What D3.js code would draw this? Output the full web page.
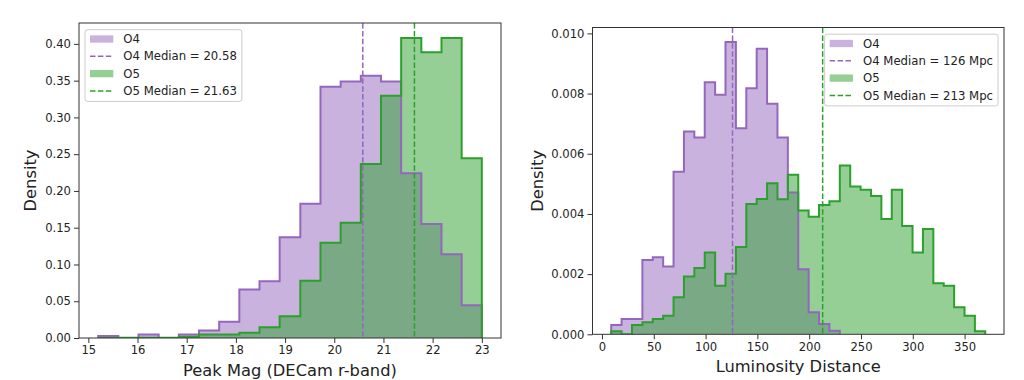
<!DOCTYPE html>
<html><head><meta charset="utf-8">
<script src="https://cdn.jsdelivr.net/npm/d3@7"></script>
<style>
body{margin:0;background:#fff}
svg{display:block}
text{font-family:"DejaVu Sans",sans-serif}
</style>
</head><body>
<svg id="c" width="1024" height="380"></svg>
<script>
// ---------- DATA ----------
const seriesNames = ["O4", "O5"];

// Left panel: peak magnitude (shared bin edges)
const magEdges = [15.2, 15.61, 16.02, 16.43, 16.84, 17.25, 17.66, 18.07, 18.48, 18.89,
                  19.31, 19.72, 20.13, 20.54, 20.95, 21.36, 21.77, 22.18, 22.59, 23.0];
const magO4 = [0.0028, 0, 0.0048, 0, 0.0048, 0.0102, 0.0222, 0.066, 0.0773, 0.137,
               0.1827, 0.3418, 0.349, 0.3568, 0.349, 0.2241, 0.155, 0.114, 0.0446];
const magO5 = [0, 0.0005, 0.0005, 0.0005, 0.0018, 0.0046, 0.0046, 0.007, 0.0147, 0.0296,
               0.0777, 0.1295, 0.1568, 0.2368, 0.3295, 0.408, 0.3886, 0.408, 0.2446];
const magMedians = [20.58, 21.63];
const magTicksX = [15, 16, 17, 18, 19, 20, 21, 22, 23];
const magTicksY = [0, 0.05, 0.10, 0.15, 0.20, 0.25, 0.30, 0.35, 0.40];
const magLegend = ["O4", "O4 Median = 20.58", "O5", "O5 Median = 21.63"];

// Right panel: luminosity distance (shared bin edges)
const distEdges = [8.9, 18.93, 28.96, 38.99, 49.02, 59.05, 69.08, 79.11, 89.14, 99.17,
                   109.2, 119.23, 129.26, 139.29, 149.32, 159.35, 169.38, 179.41, 189.44, 199.47,
                   209.5, 219.53, 229.56, 239.59, 249.62, 259.65, 269.68, 279.71, 289.74, 299.77,
                   309.8, 319.83, 329.86, 339.89, 349.92, 359.95, 369.98];
const distO4 = [0.00031, 0.00051, 0.00051, 0.00247, 0.00256, 0.00225, 0.0054, 0.00674, 0.00654, 0.00838,
                0.00796, 0.00971, 0.00685, 0.00818, 0.00949, 0.00766, 0.00654, 0.00471, 0.00216, 0.00073,
                0.00034, 0.00012];
const distO5 = [0.0001, 0, 0.00031, 0.0004, 0.00051, 0.00062, 0.00123, 0.00192, 0.0022, 0.00272,
                0.00161, 0.00201, 0.0029, 0.00433, 0.0045, 0.00502, 0.00449, 0.0053, 0.00411, 0.00391,
                0.0043, 0.00442, 0.00561, 0.00491, 0.0048, 0.0046, 0.00383, 0.0048, 0.0036, 0.00272,
                0.0035, 0.0017, 0.00161, 0.0009, 0.00062, 0.0001];
const distMedians = [126, 213];
const distTicksX = [0, 50, 100, 150, 200, 250, 300, 350];
const distTicksY = [0, 0.002, 0.004, 0.006, 0.008, 0.010];
const distLegend = ["O4", "O4 Median = 126 Mpc", "O5", "O5 Median = 213 Mpc"];

// ---------- STYLE ----------
const colors = {O4: "#9467bd", O5: "#2ca02c"};
const tickFont = 11.6, labelFont = 16.3, legendFont = 11.7;
const spineColor = "#333";

const svg = d3.select("#c");

function stepPoints(edges, vals) {
  const p = [[edges[0], 0]];
  vals.forEach((v, i) => { p.push([edges[i], v]); p.push([edges[i + 1], v]); });
  p.push([edges[vals.length], 0]);
  return p;
}

function panel(cfg) {
  const b = cfg.box;
  const lo = cfg.edges[0];
  const hi = cfg.edges[Math.max(...cfg.series.map(s => s.length))];
  const span = hi - lo;
  const x = d3.scaleLinear().domain([lo - 0.05 * span, hi + 0.05 * span]).range([b.x0, b.x1]);
  const yMax = d3.max(cfg.series.flat()) * 1.05;
  const y = d3.scaleLinear().domain([0, yMax]).range([b.y1, b.y0]);

  const g = svg.append("g");
  const clipId = "clip" + cfg.id;
  g.append("clipPath").attr("id", clipId).append("rect")
    .attr("x", b.x0).attr("y", b.y0).attr("width", b.x1 - b.x0).attr("height", b.y1 - b.y0);
  const plot = g.append("g").attr("clip-path", `url(#${clipId})`);

  const area = d3.area().x(d => x(d[0])).y0(y(0)).y1(d => y(d[1]));
  const line = d3.line().x(d => x(d[0])).y(d => y(d[1]));

  cfg.series.forEach((vals, i) => {
    plot.append("path").attr("d", area(stepPoints(cfg.edges, vals)))
      .attr("fill", colors[seriesNames[i]]).attr("fill-opacity", 0.5);
  });
  cfg.series.forEach((vals, i) => {
    plot.append("path").attr("d", line(stepPoints(cfg.edges, vals)))
      .attr("fill", "none").attr("stroke", colors[seriesNames[i]])
      .attr("stroke-width", 2).attr("stroke-linejoin", "miter");
  });
  cfg.medians.forEach((m, i) => {
    plot.append("line").attr("x1", x(m)).attr("x2", x(m)).attr("y1", b.y0).attr("y2", b.y1)
      .attr("stroke", colors[seriesNames[i]]).attr("stroke-width", 1.5)
      .attr("stroke-dasharray", "5.5,2.4");
  });

  // axes
  const ax = g.append("g").attr("transform", `translate(0,${b.y1})`)
    .call(d3.axisBottom(x).tickValues(cfg.xTicks).tickFormat(d3.format("d")).tickSize(5).tickPadding(3));
  const ay = g.append("g").attr("transform", `translate(${b.x0},0)`)
    .call(d3.axisLeft(y).tickValues(cfg.yTicks).tickFormat(d3.format(cfg.yFmt)).tickSize(5).tickPadding(3));
  [ax, ay].forEach(a => {
    a.select(".domain").remove();
    a.selectAll(".tick line").attr("stroke", spineColor);
    a.selectAll(".tick text").attr("fill", "#222").style("font-size", tickFont + "px")
      .style("font-family", '"DejaVu Sans",sans-serif');
  });
  g.append("rect").attr("x", b.x0).attr("y", b.y0).attr("width", b.x1 - b.x0).attr("height", b.y1 - b.y0)
    .attr("fill", "none").attr("stroke", spineColor).attr("stroke-width", 1);

  // labels
  g.append("text").attr("x", (b.x0 + b.x1) / 2).attr("y", cfg.xLabelY)
    .attr("text-anchor", "middle").style("font-size", labelFont + "px").attr("fill", "#222").text(cfg.xLabel);
  g.append("text").attr("transform", `translate(${cfg.yLabelX},${(b.y0 + b.y1) / 2}) rotate(-90)`)
    .attr("text-anchor", "middle").style("font-size", labelFont + "px").attr("fill", "#222").text("Density");

  // legend
  const lg = g.append("g");
  const frame = lg.append("rect").attr("rx", 2.5).attr("ry", 2.5)
    .attr("fill", "#fff").attr("fill-opacity", 0.8).attr("stroke", "#ccc").attr("stroke-width", 1);
  const rowH = 17.3, handleX0 = 5, handleLen = 23.3, textX = 38.3;
  let maxW = 0;
  cfg.legend.forEach((lab, i) => {
    const cy = 9.3 + i * rowH;
    const sName = seriesNames[Math.floor(i / 2)];
    if (i % 2 === 0) {
      lg.append("rect").attr("x", handleX0).attr("y", cy - 3.65).attr("width", handleLen).attr("height", 7.3)
        .attr("fill", colors[sName]).attr("fill-opacity", 0.5);
    } else {
      lg.append("line").attr("x1", handleX0).attr("x2", handleX0 + handleLen).attr("y1", cy).attr("y2", cy)
        .attr("stroke", colors[sName]).attr("stroke-width", 1.5).attr("stroke-dasharray", "5.5,2.4");
    }
    const t = lg.append("text").attr("x", textX).attr("y", cy).attr("dy", "0.36em")
      .style("font-size", legendFont + "px").attr("fill", "#222").text(lab);
    maxW = Math.max(maxW, t.node().getComputedTextLength());
  });
  const lw = textX + maxW + 5, lh = 71.7;
  frame.attr("x", 0).attr("y", 0).attr("width", lw).attr("height", lh);
  const lx = cfg.legendSide === "left" ? b.x0 + 6 : b.x1 - 6 - lw;
  lg.attr("transform", `translate(${lx},${b.y0 + 6.7})`);
}

panel({
  id: "L", box: {x0: 79, x1: 501, y0: 23, y1: 338},
  edges: magEdges, series: [magO4, magO5], medians: magMedians,
  xTicks: magTicksX, yTicks: magTicksY, yFmt: ".2f",
  xLabel: "Peak Mag (DECam r-band)", xLabelY: 376, yLabelX: 35.7,
  legend: magLegend, legendSide: "left"
});
panel({
  id: "R", box: {x0: 592.5, x1: 1004, y0: 27.5, y1: 334.3},
  edges: distEdges, series: [distO4, distO5], medians: distMedians,
  xTicks: distTicksX, yTicks: distTicksY, yFmt: ".3f",
  xLabel: "Luminosity Distance", xLabelY: 372, yLabelX: 543.3,
  legend: distLegend, legendSide: "right"
});
</script>
</body></html>
